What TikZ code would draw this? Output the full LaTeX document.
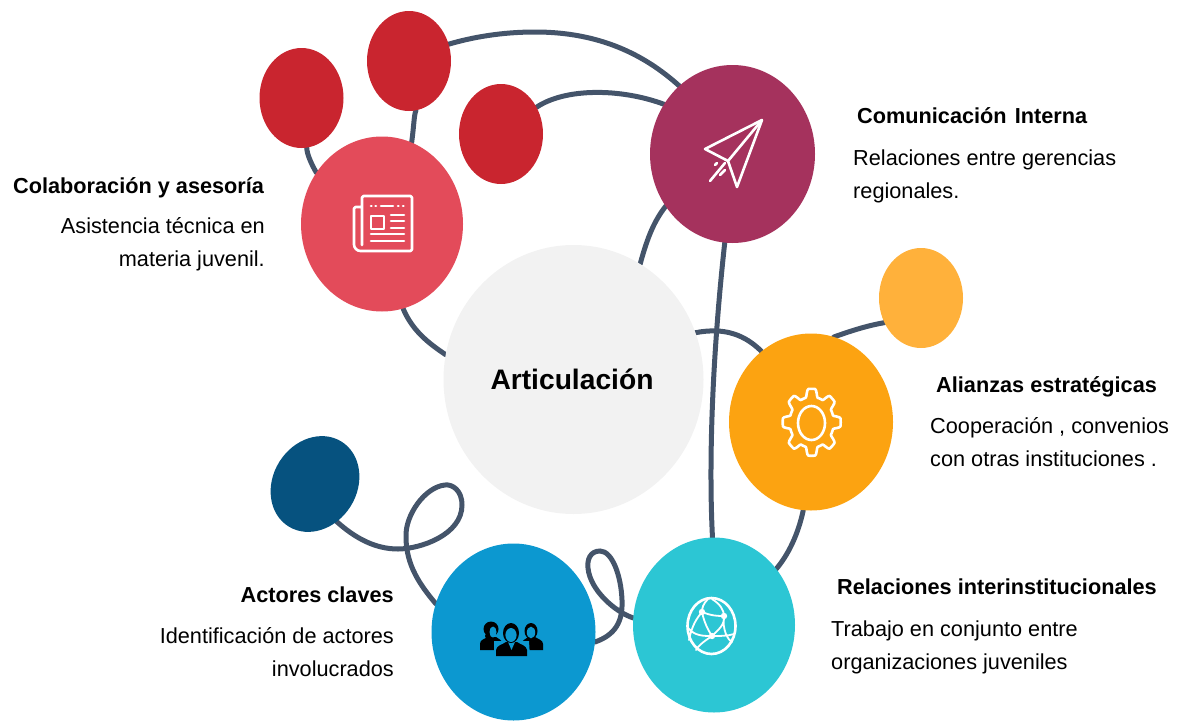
\documentclass[tikz,border=0pt]{standalone}
\usepackage{fontspec}
\setmainfont{Liberation Sans}
\usetikzlibrary{shapes.geometric,backgrounds}
\definecolor{cColab}{HTML}{E34B5A}
\definecolor{cCom}{HTML}{A5325D}
\definecolor{cAli}{HTML}{FCA311}
\definecolor{cRel}{HTML}{2CC6D4}
\definecolor{cAct}{HTML}{0C98D0}
\definecolor{cMid}{HTML}{F2F2F2}
\definecolor{cRed}{HTML}{C9252F}
\definecolor{cYel}{HTML}{FFB13B}
\definecolor{cDark}{HTML}{06527F}
\definecolor{cLine}{HTML}{44546A}
\tikzset{
  blob/.style={ellipse,inner sep=0pt,outer sep=0pt,draw=none},
  big/.style={blob,minimum width=162pt,minimum height=175pt},
  small/.style={blob,minimum width=84pt,minimum height=100pt},
  conn/.style={draw=cLine,line width=5pt,line cap=round},
  icon/.style={draw=white,line width=2.6pt,line join=round,line cap=round},
  head/.style={font=\fontsize{21.7}{26}\selectfont\bfseries,inner sep=0pt},
  body/.style={font=\fontsize{21.7}{26}\selectfont,inner sep=0pt},
}
\begin{document}
\begin{tikzpicture}[x=1pt,y=-1pt]
\useasboundingbox (0,0) rectangle (1180,720);
% nodes
\node[blob,fill=cMid,minimum width=260pt,minimum height=269pt,font=\fontsize{28.2}{32}\selectfont\bfseries] (mid) at (573.5,379.5) {Articulación\hspace*{3pt}};
\node[big,fill=cColab] (colab) at (382,224) {};
\node[big,fill=cCom,minimum width=165pt,minimum height=178pt] (com) at (732.5,154) {};
\node[big,fill=cAli,minimum width=164pt,minimum height=177pt] (ali) at (811,422) {};
\node[big,fill=cRel] (rel) at (714,625) {};
\node[big,fill=cAct,minimum width=164pt,minimum height=177pt] (act) at (513.5,632) {};
\node[small,fill=cRed] (r1) at (301.5,98) {};
\node[small,fill=cRed] (r2) at (409,61) {};
\node[small,fill=cRed] (r3) at (501,134) {};
\node[small,fill=cYel] (yel) at (921,298) {};
\node[blob,fill=cDark,minimum width=100pt,minimum height=84pt,rotate=58] (dk) at (315,484) {};
% connectors
\begin{pgfonlayer}{background}
\draw[conn] (r1.276) .. controls (307,155) and (312,165) .. (colab.142);
\draw[conn] (r2.-82) .. controls (414,115) and (414,125) .. (colab.70);
\draw[conn] (r2.23) .. controls (480,35) and (510,32) .. (535,32) .. controls (600,32) and (645,55) .. (com.128);
\draw[conn] (r3.37) .. controls (565,88) and (620,88) .. (com.144);
\draw[conn] (mid.60) .. controls (648,235) and (655,220) .. (com.218);
\draw[conn] (colab.-76) .. controls (412,330) and (428,343) .. (mid.169);
\draw[conn] (mid.21.5) .. controls (725,327) and (745,335) .. (ali.125);
\draw[conn] (yel.214) .. controls (865,326) and (848,332) .. (ali.75);
\draw[conn] (com.-95) .. controls (714,340) and (708,450) .. (rel.91);
\draw[conn] (ali.-95) .. controls (798,535) and (788,555) .. (rel.42);
\draw[conn] (dk.-118) .. controls (355,538) and (375,549) .. (398,549) .. controls (420,549) and (462,535) .. (462,505) .. controls (462,490) and (452,484) .. (445,485) .. controls (425,487) and (405,515) .. (406,537) .. controls (406,565) and (420,585) .. (act.160);
\draw[conn] (act.-7) .. controls (615,635) and (623,622) .. (622,600) .. controls (621,575) and (612,551) .. (600,551) .. controls (590,551) and (587,560) .. (588,568) .. controls (590,590) and (615,612) .. (rel.175);
\end{pgfonlayer}
% texts
\node[head,anchor=base west] (t1) at (13,193) {Colaboración y asesoría};
\node[body,anchor=base east] (t1a) at (265,233) {Asistencia técnica en};
\node[body,anchor=base east] (t1b) at (265,266) {materia juvenil.};
\node[head,anchor=base west] (t2) at (857,123) {Comunicación\hspace{2pt} Interna};
\node[body,anchor=base west] (t2a) at (853,165) {Relaciones entre gerencias};
\node[body,anchor=base west] (t2b) at (853,198) {regionales.};
\node[head,anchor=base west] (t3) at (936,392) {Alianzas estratégicas};
\node[body,anchor=base west] (t3a) at (930,433) {Cooperación , convenios};
\node[body,anchor=base west] (t3b) at (930,466) {con otras instituciones .};
\node[head,anchor=base west] (t4) at (837,594) {Relaciones interinstitucionales};
\node[body,anchor=base west] (t4a) at (831,636) {Trabajo en conjunto entre};
\node[body,anchor=base west] (t4b) at (831,669) {organizaciones juveniles};
\node[head,anchor=base east] (t5) at (394,602) {Actores claves};
\node[body,anchor=base east] (t5a) at (394,643) {Identificación de actores};
\node[body,anchor=base east] (t5b) at (394,676) {involucrados};
% newspaper icon
\draw[icon,rounded corners=1.5pt] (362,245) -- (362,196) -- (412,196) -- (412,251) -- (362,251) .. controls (357,251) and (354,248) .. (354,243) -- (354,207) -- (362,207);
\draw[icon] (371,206)--(371.5,206) (375.5,206)--(376,206) (381,206)--(393,206) (398,206)--(398.5,206) (403,206)--(403.5,206);
\draw[icon] (371,216) rectangle (384,229);
\draw[icon] (391,215)--(404,215) (391,221)--(404,221) (391,228)--(404,228) (371,234)--(404,234) (371,241)--(404,241);
% paper plane icon
\draw[icon] (762,120) -- (705,149) -- (728,161) -- (737,187) -- cycle;
\draw[icon] (762,120) -- (728,161);
\draw[icon] (710,181) -- (725,163) (720,175)--(725,170) (715,165)--(717,163);
% gear icon
\draw[icon] plot[domain=0:360,samples=161,smooth] ({811.7+29*(0.88+0.12*max(min(cos(8*\x)*2.2,1),-1))*cos(\x)},{422.3+33.5*(0.88+0.12*max(min(cos(8*\x)*2.2,1),-1))*sin(\x)}) -- cycle;
\draw[icon] (811.5,423) ellipse [x radius=13.5,y radius=17];
% globe icon
\draw[icon] (711.5,626) ellipse [x radius=24,y radius=28];
\draw[icon,line width=1.8pt] (708,599) .. controls (703,604) and (702,608) .. (702,612) .. controls (697,618) and (692,625) .. (689,640)
  (702,612) .. controls (712,616) and (718,616) .. (724,616)
  (702,612) .. controls (704,622) and (708,630) .. (712,636)
  (712,599) .. controls (720,604) and (724,610) .. (724,616) .. controls (725,625) and (718,630) .. (712,636) .. controls (703,642) and (698,646) .. (696,650)
  (688,628) .. controls (695,636) and (703,636) .. (712,636) .. controls (720,636) and (728,636) .. (734,634)
  (724,616) .. controls (722,630) and (728,640) .. (732,642);
\fill[white] (702,612) circle [radius=3.2] (724,616) circle [radius=3.2] (712,636) circle [radius=3.2];
% people icon
\fill[black] (480,650) -- (480,644) .. controls (480,640) and (484,639) .. (488,637) -- (496,637) .. controls (499,639) and (502,640) .. (503,644) -- (503,650) -- cycle;
\fill[black] (491,629) circle [radius=7.5] (488,636) circle [radius=3];
\fill[cAct] (493,632) ellipse [x radius=3.5,y radius=5.5];
\fill[black] (520,650) -- (521,644) .. controls (522,640) and (526,639) .. (528,637) -- (535,637) .. controls (538,639) and (543,640) .. (543,644) -- (543,650) -- cycle;
\fill[black] (531,631) ellipse [x radius=6.5,y radius=8];
\fill[cAct] (531,632.5) ellipse [x radius=4.2,y radius=5.8];
\fill[cAct] (494,641) -- (529,641) -- (530,657) -- (494,657) -- cycle;
\fill[black] (496,656) -- (496,650) .. controls (497,645) and (502,645) .. (506,642) -- (517,642) .. controls (521,645) and (526,645) .. (527,650) -- (527,656) -- cycle;
\fill[cAct] (508,642) -- (515,642) -- (511.5,650) -- cycle;
\fill[cAct] (511,625) ellipse [x radius=10,y radius=12];
\fill[black] (511,633) ellipse [x radius=8,y radius=10];
\fill[cAct] (511,635) ellipse [x radius=5.6,y radius=7];
\end{tikzpicture}
\end{document}
